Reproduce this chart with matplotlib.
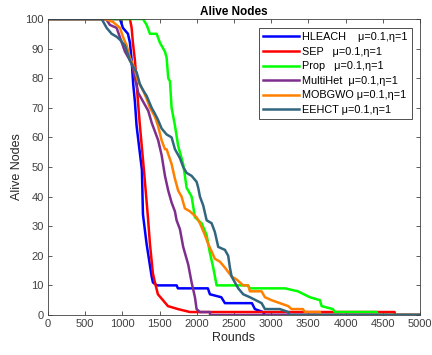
import matplotlib
matplotlib.use("Agg")
import matplotlib.pyplot as plt

# rounds / alive nodes for each protocol
hleach_r = [0, 968, 1008, 1075, 1102, 1125, 1146, 1169, 1191, 1263, 1277, 1326, 1394, 1411, 1465,
            1730, 1747, 2150, 2177, 2330, 2379, 2742, 2782, 2890, 2917, 5000]
hleach_n = [100, 100, 97, 95, 92, 86, 78, 72, 64, 49, 34, 24, 13, 11, 10,
            10, 9, 9, 7, 6, 4, 4, 2, 1, 0, 0]

sep_r = [0, 1102, 1125, 1142, 1169, 1191, 1210, 1236, 1290, 1344, 1371, 1411, 1438, 1478,
         1546, 1613, 1747, 1909, 4660, 4664, 5000]
sep_n = [100, 100, 97, 92, 86, 79, 72, 64, 49, 33, 24, 14, 11, 7,
         5, 3, 2, 1, 1, 0, 0]

prop_r = [0, 1277, 1327, 1371, 1461, 1505, 1572, 1595, 1617, 1640, 1662, 1707, 1751, 1774,
          1818, 1864, 1931, 1976, 2066, 2133, 2177, 2222, 2267, 2688, 2715, 3185, 3360,
          3521, 3656, 3679, 3830, 3857, 4422, 4430, 5000]
prop_n = [100, 100, 98, 95, 95, 92, 89, 87, 80, 79, 70, 64, 57, 55,
          51, 43, 40, 33, 31, 27, 21, 16, 10, 10, 9, 9, 8,
          6, 5, 3, 2, 1, 1, 0, 0]

multihet_r = [0, 780, 833, 923, 1035, 1125, 1169, 1214, 1281, 1348, 1394, 1482, 1528, 1573,
              1617, 1662, 1707, 1729, 1774, 1818, 1886, 1931, 1976, 1998, 2043, 2177, 2180, 5000]
multihet_n = [100, 100, 98, 97, 89, 85, 80, 75, 72, 69, 65, 59, 54, 47,
              42, 38, 35, 32, 29, 23, 17, 11, 6, 2, 1, 1, 0, 0]

mobgwo_r = [0, 766, 874, 968, 1008, 1058, 1102, 1169, 1210, 1277, 1327, 1371, 1438, 1478,
            1528, 1573, 1595, 1662, 1707, 1751, 1796, 1841, 1909, 1998, 2043, 2110, 2154,
            2190, 2244, 2312, 2379, 2469, 2536, 2625, 2692, 2715, 2872, 2917, 3006, 3118,
            3230, 3275, 3427, 3454, 3656, 3660, 5000]
mobgwo_n = [100, 100, 99, 97, 94, 91, 87, 83, 79, 76, 73, 70, 67, 64,
            59, 56, 56, 51, 46, 42, 40, 36, 35, 33, 31, 27, 24,
            22, 19, 18, 16, 13, 12, 10, 10, 8, 8, 6, 5, 4,
            3, 2, 2, 1, 1, 0, 0]

eehct_r = [0, 722, 789, 856, 923, 968, 1035, 1075, 1102, 1142, 1192, 1236, 1277, 1327, 1394,
           1438, 1478, 1528, 1595, 1662, 1707, 1774, 1818, 1864, 1931, 1998, 2020, 2043,
           2087, 2133, 2200, 2244, 2289, 2379, 2423, 2446, 2469, 2513, 2558, 2625, 2715,
           2872, 2917, 3118, 3230, 3240, 5000]
eehct_n = [100, 100, 97, 95, 94, 93, 91, 88, 86, 84, 82, 78, 76, 74, 70,
           68, 66, 63, 61, 60, 56, 53, 50, 48, 47, 45, 43, 40,
           37, 32, 31, 28, 23, 22, 20, 16, 13, 11, 9, 7, 6,
           4, 2, 2, 1, 0, 0]

labels = ["HLEACH    \u03bc=0.1,\u03b7=1", "SEP   \u03bc=0.1,\u03b7=1", "Prop   \u03bc=0.1,\u03b7=1",
          "MultiHet  \u03bc=0.1,\u03b7=1", "MOBGWO \u03bc=0.1,\u03b7=1", "EEHCT \u03bc=0.1,\u03b7=1"]
colors = ["#0000ff", "#ff0000", "#00ff00", "#7e2f8e", "#ff8000", "#31667f"]

plt.rcParams['font.family'] = ['Liberation Sans', 'DejaVu Sans']

fig = plt.figure(figsize=(4.32, 3.55), dpi=100)
ax = fig.add_axes([0.111, 0.1127, 0.861, 0.8338])

series = [(hleach_r, hleach_n), (sep_r, sep_n), (prop_r, prop_n),
          (multihet_r, multihet_n), (mobgwo_r, mobgwo_n), (eehct_r, eehct_n)]
for (r, n), lab, c in zip(series, labels, colors):
    ax.plot(r, n, color=c, lw=1.8, label=lab)

ax.set_xlim(0, 5000)
ax.set_ylim(0, 100)
ax.set_xticks(range(0, 5001, 500))
ax.set_yticks(range(0, 101, 10))
ax.tick_params(direction='in', top=True, right=True, length=3, width=0.6,
               labelsize=8, colors='#404040', pad=3)
for s in ax.spines.values():
    s.set_color('#404040')
    s.set_linewidth(0.6)

ax.set_title("Alive Nodes", fontsize=8.5, fontweight='bold', pad=3)
ax.set_xlabel("Rounds", fontsize=9, color='#262626', labelpad=2)
ax.set_ylabel("Alive Nodes", fontsize=9, color='#262626', labelpad=2)

leg = ax.legend(loc='upper right', bbox_to_anchor=(0.978, 0.97), borderaxespad=0,
                fontsize=7.8, frameon=True, fancybox=False, handlelength=3.3,
                handletextpad=0.3, labelspacing=0.42, borderpad=0.4)
leg.get_frame().set_edgecolor('black')
leg.get_frame().set_linewidth(0.6)

fig.savefig("out.png", dpi=100)
